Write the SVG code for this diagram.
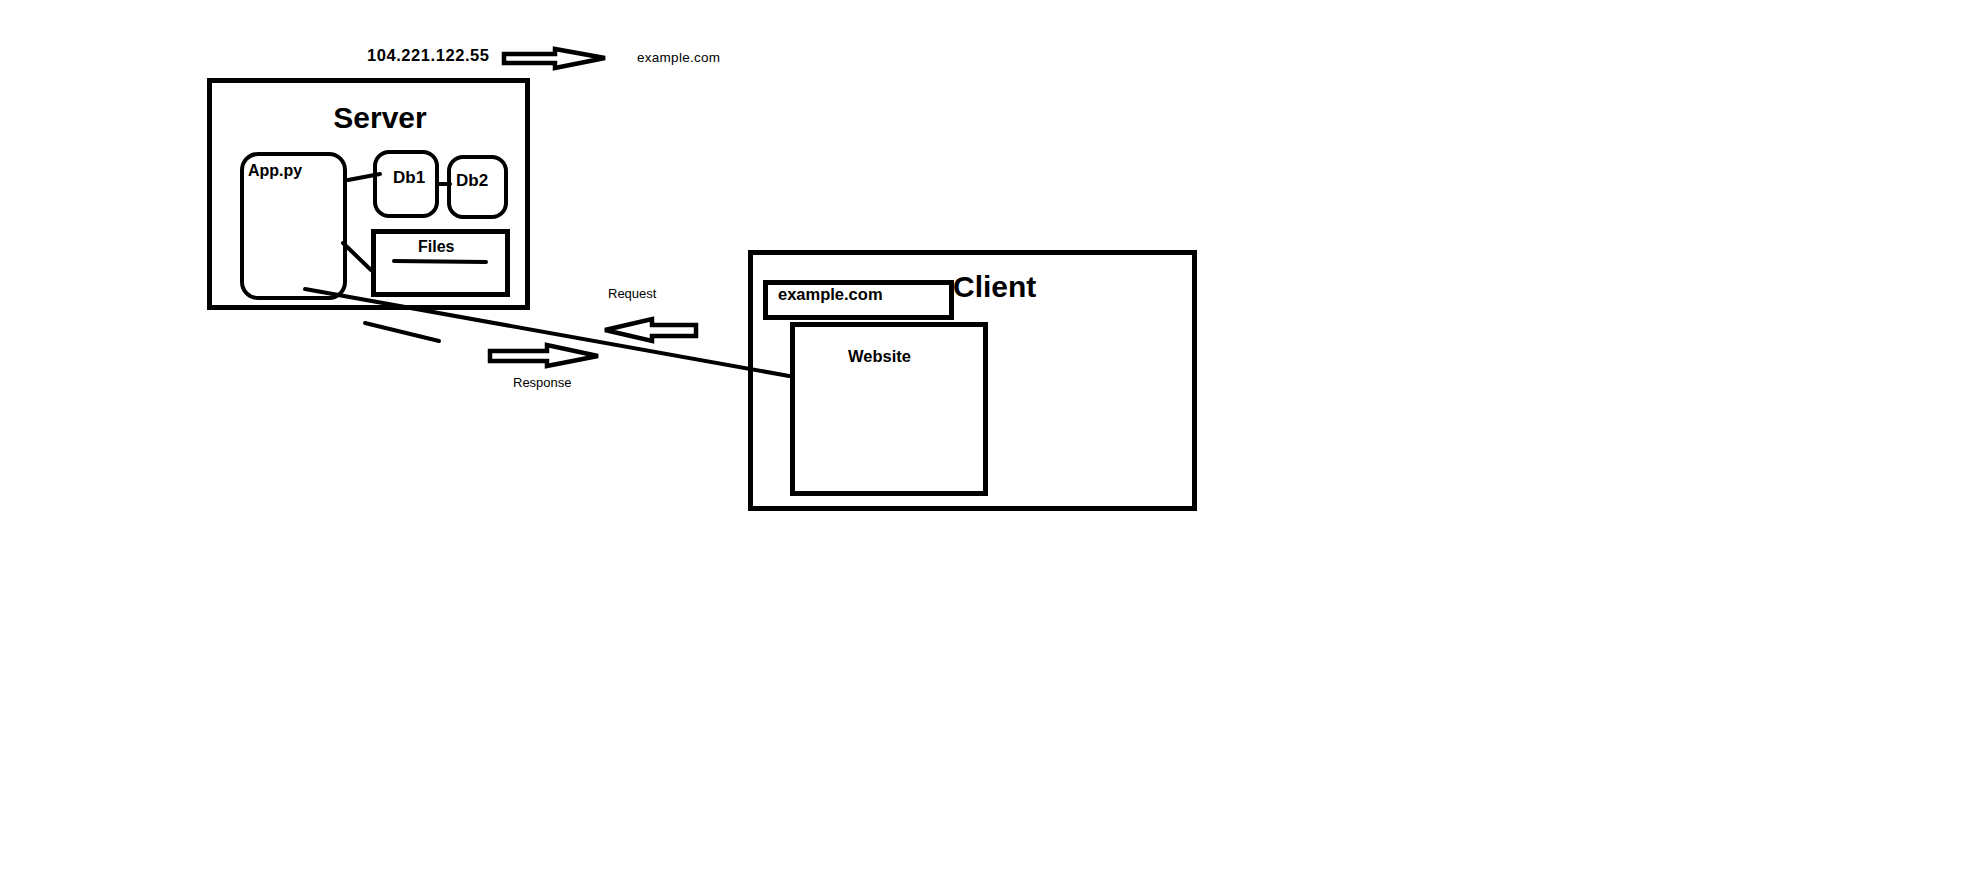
<svg xmlns="http://www.w3.org/2000/svg" width="1984" height="880" viewBox="0 0 1984 880">
<style>
.box{fill:none;stroke:#000;stroke-width:5}
.rbox{fill:none;stroke:#000;stroke-width:4}
.ln{fill:none;stroke:#000;stroke-width:4;stroke-linecap:round}
.arr{fill:#fff;stroke:#000;stroke-width:4.5;stroke-linejoin:miter}
.t{font-family:"Liberation Sans",Arial,sans-serif;fill:#000}
.b{font-weight:bold}
</style>
<rect width="1984" height="880" fill="#fff"/>
<g id="ip-label"><text class="t b" x="367" y="61" font-size="16.5" textLength="122" lengthAdjust="spacing">104.221.122.55</text></g>
<g id="domain-label"><text class="t" x="637" y="62" font-size="13.5" textLength="83" lengthAdjust="spacing">example.com</text></g>
<g id="server">
<rect class="box" x="209.5" y="80.5" width="318" height="227"/>
<text class="t b" x="380" y="128" font-size="30" text-anchor="middle">Server</text>
</g>
<g id="app">
<rect class="rbox" x="242" y="154" width="103" height="144" rx="16"/>
<text class="t b" x="248" y="176" font-size="16">App.py</text>
</g>
<g id="db1">
<rect class="rbox" x="375" y="152" width="62" height="64" rx="14"/>
<text class="t b" x="393" y="183" font-size="17">Db1</text>
</g>
<g id="db2">
<rect class="rbox" x="449" y="157" width="57" height="60" rx="14"/>
<text class="t b" x="456" y="186" font-size="17">Db2</text>
</g>
<g id="files">
<rect class="box" x="373.5" y="231.5" width="134" height="63"/>
<text class="t b" x="418" y="252" font-size="16">Files</text>
<line class="ln" x1="394" y1="261" x2="486" y2="262"/>
</g>
<g id="client">
<rect class="box" x="750.5" y="252.5" width="444" height="256"/>
<text class="t b" x="953" y="297" font-size="30">Client</text>
</g>
<g id="address-bar">
<rect class="box" x="765.5" y="282.5" width="186" height="35"/>
<text class="t b" x="778" y="300" font-size="16.5">example.com</text>
</g>
<g id="website">
<rect class="box" x="792.5" y="324.5" width="193" height="169"/>
<text class="t b" x="848" y="362" font-size="16.5">Website</text>
</g>
<g id="request-label"><text class="t" x="608" y="298" font-size="13">Request</text></g>
<g id="response-label"><text class="t" x="513" y="387" font-size="13">Response</text></g>
<g id="connectors">
<path class="ln" d="M348 180 L380 174"/>
<path class="ln" d="M439 184 L450 184"/>
<path class="ln" d="M343 243 L371 270"/>
<path class="ln" d="M305 289 L789 376" stroke-width="4.5"/>
<path class="ln" d="M365 323 L439 341"/>
<polygon class="arr" points="504,54 555,54 555,49 605,58 555,68 555,63 504,63"/>
<polygon class="arr" points="605,330 652,319 652,325 696,325 696,336 652,336 652,341"/>
<polygon class="arr" points="490,351 547,351 547,345 598,356 547,366 547,361 490,361"/>
</g>
</svg>
